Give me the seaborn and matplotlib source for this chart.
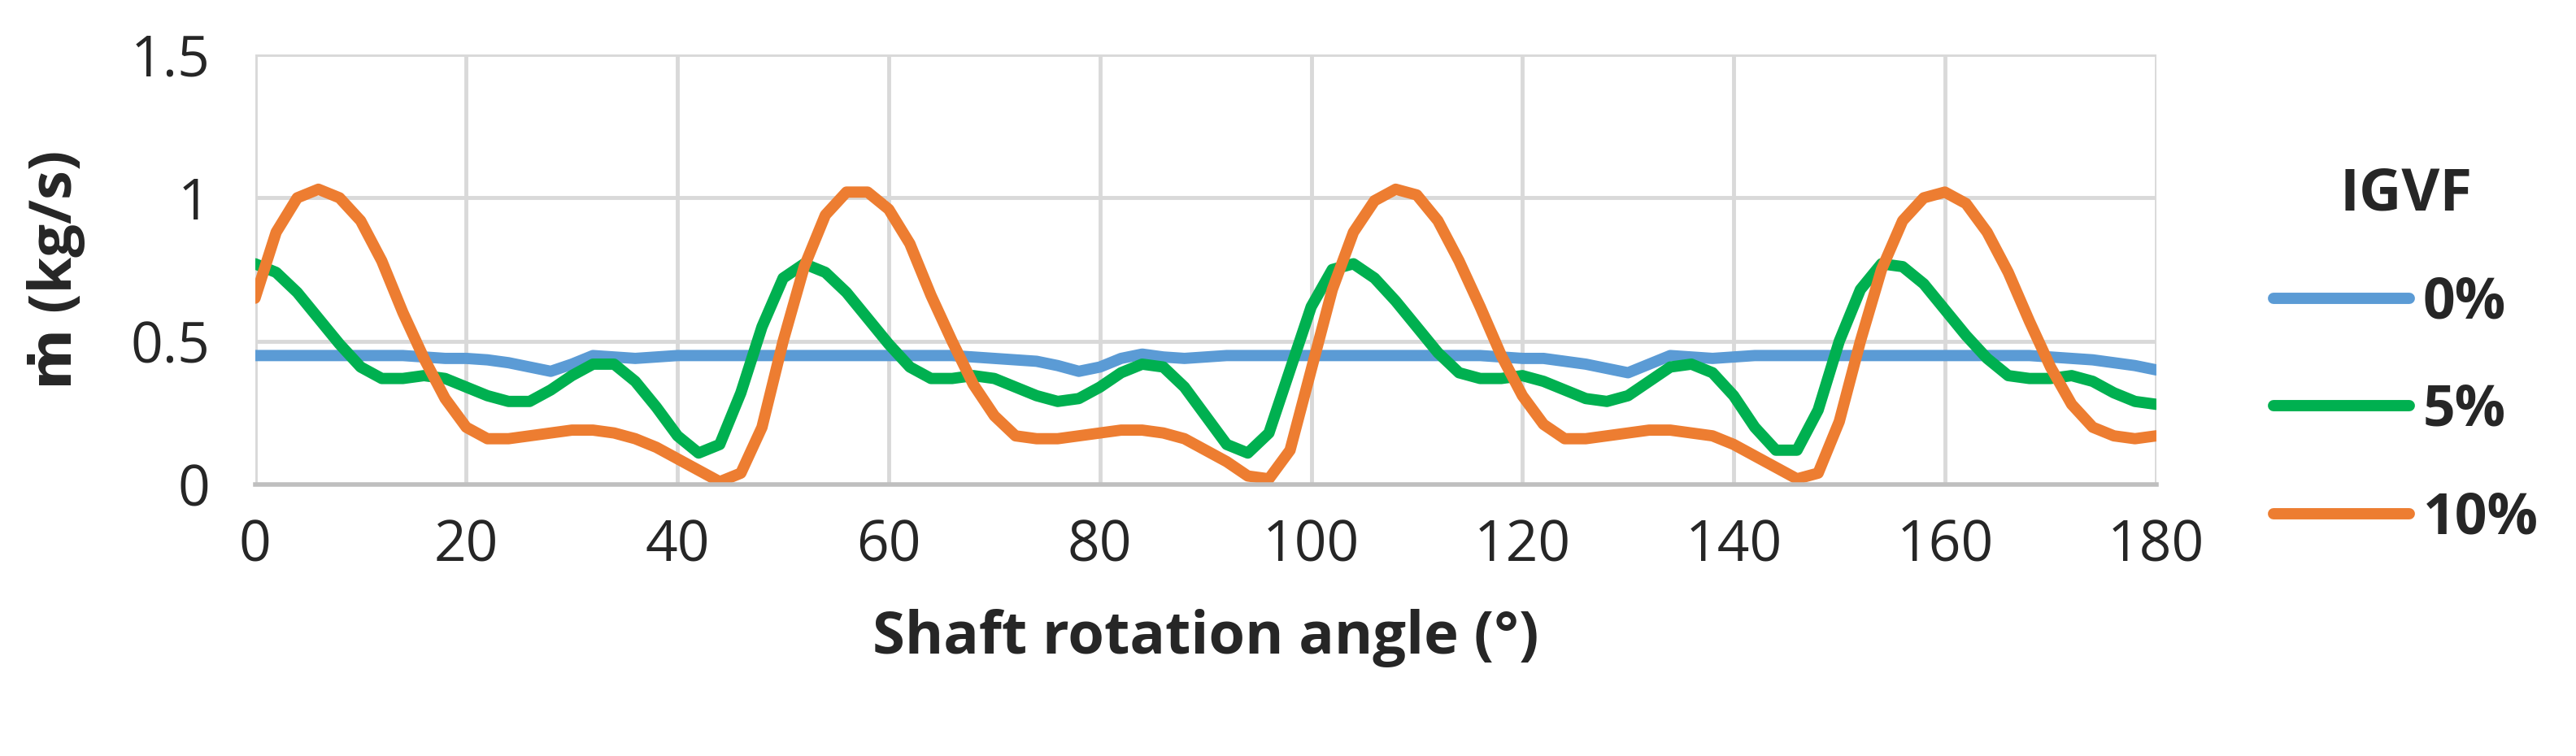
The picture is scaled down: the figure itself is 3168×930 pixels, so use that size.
import numpy as np
import pandas as pd
import matplotlib
matplotlib.use("Agg")
import matplotlib.pyplot as plt
import seaborn as sns

angle = list(range(0, 181, 2))

igvf_0 = [0.45, 0.45, 0.45, 0.45, 0.45, 0.45, 0.45, 0.45, 0.445,
          0.44, 0.44, 0.435, 0.425, 0.41, 0.395, 0.42, 0.45, 0.445, 0.44, 0.445, 0.45,
          0.45, 0.45, 0.45, 0.45, 0.45, 0.45, 0.45, 0.45, 0.45, 0.45, 0.45, 0.45, 0.45,
          0.445, 0.44, 0.435, 0.43, 0.415, 0.395, 0.41, 0.44, 0.455, 0.445, 0.44, 0.445,
          0.45, 0.45, 0.45, 0.45, 0.45, 0.45, 0.45, 0.45, 0.45, 0.45, 0.45, 0.45, 0.45,
          0.445, 0.44, 0.44, 0.43, 0.42, 0.405, 0.39, 0.42, 0.45, 0.445, 0.44, 0.445,
          0.45, 0.45, 0.45, 0.45, 0.45, 0.45, 0.45, 0.45, 0.45, 0.45, 0.45, 0.45, 0.45, 0.45,
          0.445, 0.44, 0.435, 0.425, 0.415, 0.40]

igvf_5 = [0.77, 0.74, 0.67, 0.58, 0.49, 0.41, 0.37, 0.37, 0.38, 0.37, 0.34, 0.31, 0.29,
          0.29, 0.33, 0.38, 0.42, 0.42, 0.36, 0.27, 0.17, 0.11, 0.14, 0.32, 0.55, 0.72,
          0.77, 0.74, 0.67, 0.58, 0.49, 0.41, 0.37, 0.37, 0.38, 0.37, 0.34, 0.31, 0.29,
          0.30, 0.34, 0.39, 0.42, 0.41, 0.34, 0.24, 0.14, 0.11, 0.18, 0.40, 0.62, 0.75,
          0.77, 0.72, 0.64, 0.55, 0.46, 0.39, 0.37, 0.37, 0.38, 0.36, 0.33, 0.30, 0.29,
          0.31, 0.36, 0.41, 0.42, 0.39, 0.31, 0.20, 0.12, 0.12, 0.26, 0.50, 0.68, 0.77,
          0.76, 0.70, 0.61, 0.52, 0.44, 0.38, 0.37, 0.37, 0.38, 0.36, 0.32, 0.29, 0.28]

igvf_10 = [0.65, 0.88, 1.0, 1.03, 1.0, 0.92, 0.78, 0.6, 0.44, 0.3, 0.2, 0.16, 0.16,
           0.17, 0.18, 0.19, 0.19, 0.18, 0.16, 0.13, 0.09, 0.05, 0.01, 0.04, 0.2, 0.5,
           0.76, 0.94, 1.02, 1.02, 0.96, 0.84, 0.66, 0.5, 0.35, 0.24, 0.17, 0.16, 0.16,
           0.17, 0.18, 0.19, 0.19, 0.18, 0.16, 0.12, 0.08, 0.03, 0.02, 0.12, 0.4, 0.68,
           0.88, 0.99, 1.03, 1.01, 0.92, 0.78, 0.62, 0.45, 0.31, 0.21, 0.16, 0.16, 0.17,
           0.18, 0.19, 0.19, 0.18, 0.17, 0.14, 0.1, 0.06, 0.02, 0.04, 0.22, 0.5, 0.75,
           0.92, 1.0, 1.02, 0.98, 0.88, 0.74, 0.57, 0.41, 0.28, 0.2, 0.17, 0.16, 0.17]

labels = ["0%", "5%", "10%"]
colors = ["#5B9BD5", "#00B050", "#ED7D31"]

df = pd.concat([
    pd.DataFrame({"angle": angle, "mdot": vals, "IGVF": lab})
    for vals, lab in zip([igvf_0, igvf_5, igvf_10], labels)
])

sns.set_style("white")
plt.rcParams["font.family"] = ["Open Sans", "DejaVu Sans"]

fig = plt.figure(figsize=(31.68, 9.3), dpi=100)
ax = fig.add_axes([0.099, 0.359, 0.738, 0.569])

sns.lineplot(data=df, x="angle", y="mdot", hue="IGVF", palette=colors,
             linewidth=10, ax=ax)
for ln in ax.get_lines():
    ln.set_solid_joinstyle("round")

ax.set_xlim(0, 180)
ax.set_ylim(0, 1.5)
ax.set_xticks(range(0, 181, 20))
ax.set_yticks([0, 0.5, 1, 1.5])
ax.set_yticklabels(["0", "0.5", "1", "1.5"])
ax.grid(True, color="#D9D9D9", linewidth=3.5)
ax.set_axisbelow(True)
for s in ["top", "right", "left"]:
    ax.spines[s].set_visible(False)
ax.spines["bottom"].set_color("#BFBFBF")
ax.spines["bottom"].set_linewidth(4)
ax.tick_params(length=0, labelsize=50, pad=30)
ax.tick_params(axis="y", pad=40)

ax.set_xlabel("Shaft rotation angle (°)", fontsize=52, fontweight="bold", labelpad=30)
ax.set_ylabel("ṁ (kg/s)", fontsize=52, fontweight="bold", labelpad=40)

leg = ax.legend(title="IGVF", loc="upper left", bbox_to_anchor=(1.035, 0.86),
                frameon=False, fontsize=50, title_fontsize=52,
                handlelength=2.4, labelspacing=0.9, handletextpad=0.25)
leg.get_title().set_fontweight("bold")
for t in leg.get_texts():
    t.set_fontweight("bold")
for h in leg.get_lines():
    h.set_linewidth(10)
    h.set_solid_capstyle("round")

fig.savefig("out.png", dpi=100)
